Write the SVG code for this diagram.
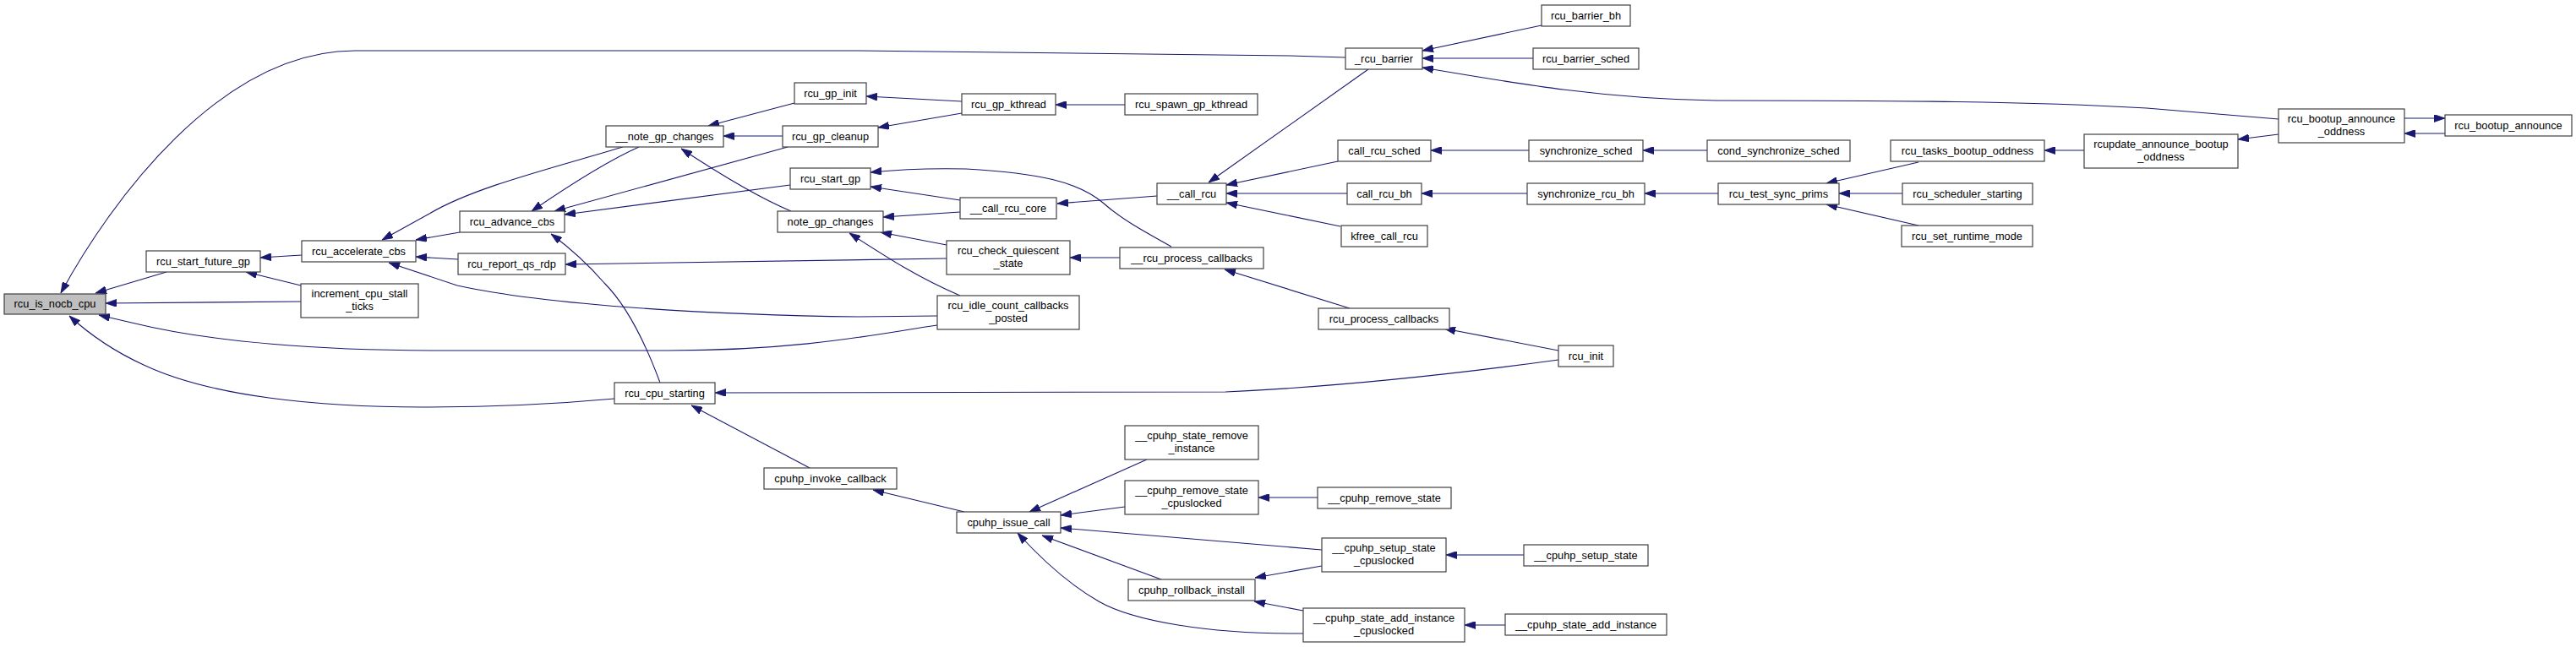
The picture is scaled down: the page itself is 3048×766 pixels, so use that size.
<svg xmlns="http://www.w3.org/2000/svg" width="3048" height="766" viewBox="0 0 3048 766">
<style>
.n rect{fill:#ffffff;stroke:#404040;stroke-width:1.2}
.n text{font-family:"Liberation Sans",Arial,sans-serif;font-size:12.8px;fill:#000000;text-anchor:middle}
#conn path{fill:none;stroke:#191970;stroke-width:1.1;marker-end:url(#ah)}
</style>
<defs>
<marker id="ah" viewBox="0 0 13 9" refX="13" refY="4.5" markerWidth="13" markerHeight="9" markerUnits="userSpaceOnUse" orient="auto">
<path d="M0,0 L13,4.5 L0,9 z" fill="#191970" stroke="#191970" stroke-width="0.8"/>
</marker>
</defs>
<rect x="0" y="0" width="3048" height="766" fill="#ffffff"/>
<g id="conn">
<path d="M197,322 L113,347"/>
<path d="M357,302 L308,305"/>
<path d="M356,338 L291,322"/>
<path d="M356,357 L125,359"/>
<path d="M1592,68 L1526,66 C1300,62 1100,60 1016,60 L420,60 C260,60 130,240 72,347"/>
<path d="M727,472 C640,480 560,482 500,482 C380,482 250,470 170,432 C135,416 105,395 82,374"/>
<path d="M1109,385 C1040,395 950,415 790,415 L520,415 C380,415 250,405 160,383 L117,373"/>
<path d="M737,174 C650,200 560,222 508,253 L452,284"/>
<path d="M544,275 L492,284"/>
<path d="M542,307 L492,304"/>
<path d="M1109,374 L1016,375 C850,373 650,362 541,338 L460,311"/>
<path d="M756,174 C720,190 680,215 629,250"/>
<path d="M932,174 L656,250"/>
<path d="M935,219 L668,254"/>
<path d="M781,453 C768,418 745,365 715,335 C695,312 675,294 652,277"/>
<path d="M940,122 L838,149"/>
<path d="M926,161 L856,161"/>
<path d="M936,250 C900,235 850,205 806,176"/>
<path d="M1138,120 L1025,114"/>
<path d="M1138,134 L1039,151"/>
<path d="M1331,124 L1249,124"/>
<path d="M1136,237 L1030,221"/>
<path d="M1386,292 C1350,272 1325,258 1305,240 C1275,215 1230,205 1143,200 C1100,199 1060,201 1030,204"/>
<path d="M1136,251 L1045,257"/>
<path d="M1120,290 L1042,275"/>
<path d="M1136,350 C1085,328 1050,305 1005,276"/>
<path d="M1120,306 L669,313"/>
<path d="M1844,426 C1720,443 1580,458 1450,464 L846,465"/>
<path d="M958,554 L818,480"/>
<path d="M1141,606 L1033,580"/>
<path d="M1369,232 L1251,241"/>
<path d="M1583,191 L1451,219"/>
<path d="M1594,229 L1451,229"/>
<path d="M1586,268 L1451,240"/>
<path d="M1619,82 L1430,216"/>
<path d="M1325,305 L1266,305"/>
<path d="M1597,365 L1449,319"/>
<path d="M1844,415 L1709,389"/>
<path d="M1824,30 L1683,60"/>
<path d="M1814,69 L1683,69"/>
<path d="M2696,141 L2540,128 C2400,120 2250,119 2030,119 C1900,117 1800,100 1683,80"/>
<path d="M1809,178 L1693,178"/>
<path d="M2020,178 L1944,178"/>
<path d="M1807,229 L1682,229"/>
<path d="M2033,229 L1946,229"/>
<path d="M2270,192 L2161,217"/>
<path d="M2251,229 L2176,229"/>
<path d="M2270,267 L2161,242"/>
<path d="M2466,178 L2419,178"/>
<path d="M2696,159 L2648,165"/>
<path d="M2845,140 L2893,140"/>
<path d="M2893,158 L2845,158"/>
<path d="M1357,544 L1218,606"/>
<path d="M1331,600 L1255,610"/>
<path d="M1564,651 L1255,625"/>
<path d="M1374,686 L1233,634"/>
<path d="M1542,750 C1430,751 1340,735 1300,712 C1265,692 1235,665 1204,631"/>
<path d="M1559,589 L1489,589"/>
<path d="M1564,670 L1485,684"/>
<path d="M1542,723 L1484,712"/>
<path d="M1803,657 L1711,657"/>
<path d="M1781,740 L1733,740"/>
</g>
<g id="rcu_is_nocb_cpu" class="n"><rect x="5" y="348" width="120" height="24" style="fill:#bfbfbf"/><text x="65" y="364">rcu_is_nocb_cpu</text></g>
<g id="rcu_start_future_gp" class="n"><rect x="173" y="297" width="135" height="25"/><text x="240.5" y="313.5">rcu_start_future_gp</text></g>
<g id="rcu_accelerate_cbs" class="n"><rect x="357" y="285" width="135" height="25"/><text x="424.5" y="301.5">rcu_accelerate_cbs</text></g>
<g id="increment_cpu_stall_ticks" class="n"><rect x="356" y="336" width="139" height="40"/><text x="425.5" y="352">increment_cpu_stall</text><text x="425.5" y="367">_ticks</text></g>
<g id="__note_gp_changes" class="n"><rect x="717" y="149" width="139" height="25"/><text x="786.5" y="165.5">__note_gp_changes</text></g>
<g id="rcu_advance_cbs" class="n"><rect x="544" y="250" width="124" height="25"/><text x="606" y="266.5">rcu_advance_cbs</text></g>
<g id="rcu_report_qs_rdp" class="n"><rect x="542" y="300" width="127" height="25"/><text x="605.5" y="316.5">rcu_report_qs_rdp</text></g>
<g id="rcu_cpu_starting" class="n"><rect x="727" y="453" width="119" height="25"/><text x="786.5" y="469.5">rcu_cpu_starting</text></g>
<g id="rcu_gp_init" class="n"><rect x="940" y="98" width="85" height="25"/><text x="982.5" y="114.5">rcu_gp_init</text></g>
<g id="rcu_gp_cleanup" class="n"><rect x="926" y="149" width="113" height="25"/><text x="982.5" y="165.5">rcu_gp_cleanup</text></g>
<g id="rcu_start_gp" class="n"><rect x="935" y="199" width="95" height="25"/><text x="982.5" y="215.5">rcu_start_gp</text></g>
<g id="note_gp_changes" class="n"><rect x="920" y="250" width="125" height="25"/><text x="982.5" y="266.5">note_gp_changes</text></g>
<g id="cpuhp_invoke_callback" class="n"><rect x="904" y="554" width="157" height="25"/><text x="982.5" y="570.5">cpuhp_invoke_callback</text></g>
<g id="rcu_gp_kthread" class="n"><rect x="1138" y="111" width="111" height="25"/><text x="1193.5" y="127.5">rcu_gp_kthread</text></g>
<g id="rcu_spawn_gp_kthread" class="n"><rect x="1331" y="111" width="157" height="25"/><text x="1409.5" y="127.5">rcu_spawn_gp_kthread</text></g>
<g id="__call_rcu_core" class="n"><rect x="1136" y="234" width="114" height="25"/><text x="1193" y="250.5">__call_rcu_core</text></g>
<g id="__call_rcu" class="n"><rect x="1369" y="217" width="82" height="25"/><text x="1410" y="233.5">__call_rcu</text></g>
<g id="rcu_check_quiescent_state" class="n"><rect x="1120" y="285" width="146" height="40"/><text x="1193" y="301">rcu_check_quiescent</text><text x="1193" y="316">_state</text></g>
<g id="__rcu_process_callbacks" class="n"><rect x="1325" y="293" width="170" height="25"/><text x="1410" y="309.5">__rcu_process_callbacks</text></g>
<g id="rcu_idle_count_callbacks_posted" class="n"><rect x="1109" y="350" width="168" height="40"/><text x="1193" y="366">rcu_idle_count_callbacks</text><text x="1193" y="381">_posted</text></g>
<g id="__cpuhp_state_remove_instance" class="n"><rect x="1331" y="504" width="158" height="40"/><text x="1410" y="520">__cpuhp_state_remove</text><text x="1410" y="535">_instance</text></g>
<g id="__cpuhp_remove_state_cpuslocked" class="n"><rect x="1331" y="569" width="158" height="40"/><text x="1410" y="585">__cpuhp_remove_state</text><text x="1410" y="600">_cpuslocked</text></g>
<g id="cpuhp_issue_call" class="n"><rect x="1132" y="606" width="123" height="25"/><text x="1193.5" y="622.5">cpuhp_issue_call</text></g>
<g id="cpuhp_rollback_install" class="n"><rect x="1335" y="686" width="150" height="25"/><text x="1410" y="702.5">cpuhp_rollback_install</text></g>
<g id="_rcu_barrier" class="n"><rect x="1592" y="57" width="91" height="25"/><text x="1637.5" y="73.5">_rcu_barrier</text></g>
<g id="rcu_barrier_bh" class="n"><rect x="1824" y="6" width="105" height="25"/><text x="1876.5" y="22.5">rcu_barrier_bh</text></g>
<g id="rcu_barrier_sched" class="n"><rect x="1814" y="57" width="125" height="25"/><text x="1876.5" y="73.5">rcu_barrier_sched</text></g>
<g id="call_rcu_sched" class="n"><rect x="1583" y="166" width="110" height="25"/><text x="1638" y="182.5">call_rcu_sched</text></g>
<g id="synchronize_sched" class="n"><rect x="1809" y="166" width="135" height="25"/><text x="1876.5" y="182.5">synchronize_sched</text></g>
<g id="call_rcu_bh" class="n"><rect x="1594" y="217" width="88" height="25"/><text x="1638" y="233.5">call_rcu_bh</text></g>
<g id="synchronize_rcu_bh" class="n"><rect x="1807" y="217" width="139" height="25"/><text x="1876.5" y="233.5">synchronize_rcu_bh</text></g>
<g id="kfree_call_rcu" class="n"><rect x="1587" y="267" width="102" height="25"/><text x="1638" y="283.5">kfree_call_rcu</text></g>
<g id="rcu_process_callbacks" class="n"><rect x="1560" y="365" width="155" height="25"/><text x="1637.5" y="381.5">rcu_process_callbacks</text></g>
<g id="rcu_init" class="n"><rect x="1844" y="409" width="65" height="25"/><text x="1876.5" y="425.5">rcu_init</text></g>
<g id="__cpuhp_remove_state" class="n"><rect x="1559" y="577" width="158" height="25"/><text x="1638" y="593.5">__cpuhp_remove_state</text></g>
<g id="__cpuhp_setup_state_cpuslocked" class="n"><rect x="1564" y="637" width="147" height="40"/><text x="1637.5" y="653">__cpuhp_setup_state</text><text x="1637.5" y="668">_cpuslocked</text></g>
<g id="__cpuhp_setup_state" class="n"><rect x="1803" y="645" width="147" height="25"/><text x="1876.5" y="661.5">__cpuhp_setup_state</text></g>
<g id="__cpuhp_state_add_instance_cpuslocked" class="n"><rect x="1542" y="720" width="191" height="40"/><text x="1637.5" y="736">__cpuhp_state_add_instance</text><text x="1637.5" y="751">_cpuslocked</text></g>
<g id="__cpuhp_state_add_instance" class="n"><rect x="1781" y="727" width="191" height="25"/><text x="1876.5" y="743.5">__cpuhp_state_add_instance</text></g>
<g id="cond_synchronize_sched" class="n"><rect x="2020" y="166" width="169" height="25"/><text x="2104.5" y="182.5">cond_synchronize_sched</text></g>
<g id="rcu_test_sync_prims" class="n"><rect x="2033" y="217" width="143" height="25"/><text x="2104.5" y="233.5">rcu_test_sync_prims</text></g>
<g id="rcu_tasks_bootup_oddness" class="n"><rect x="2237" y="166" width="182" height="25"/><text x="2328" y="182.5">rcu_tasks_bootup_oddness</text></g>
<g id="rcu_scheduler_starting" class="n"><rect x="2251" y="217" width="154" height="25"/><text x="2328" y="233.5">rcu_scheduler_starting</text></g>
<g id="rcu_set_runtime_mode" class="n"><rect x="2250" y="267" width="155" height="25"/><text x="2327.5" y="283.5">rcu_set_runtime_mode</text></g>
<g id="rcupdate_announce_bootup_oddness" class="n"><rect x="2466" y="159" width="182" height="40"/><text x="2557" y="175">rcupdate_announce_bootup</text><text x="2557" y="190">_oddness</text></g>
<g id="rcu_bootup_announce_oddness" class="n"><rect x="2696" y="129" width="149" height="40"/><text x="2770.5" y="145">rcu_bootup_announce</text><text x="2770.5" y="160">_oddness</text></g>
<g id="rcu_bootup_announce" class="n"><rect x="2893" y="136" width="150" height="25"/><text x="2968" y="152.5">rcu_bootup_announce</text></g>
</svg>
